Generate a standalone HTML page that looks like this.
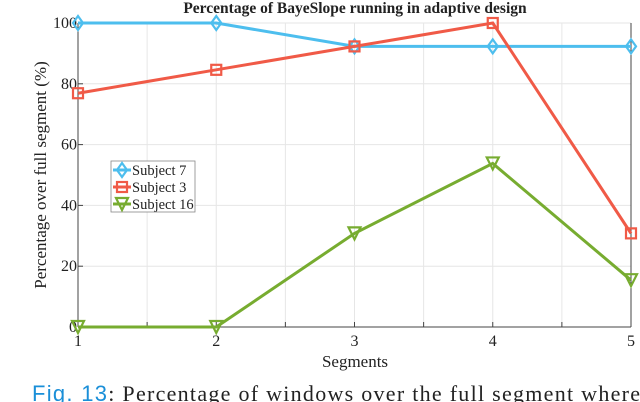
<!DOCTYPE html>
<html><head><meta charset="utf-8"><style>
body{margin:0;background:#fff;width:640px;height:402px;overflow:hidden}
svg{display:block}
text{font-family:"Liberation Serif",serif;fill:#222}
</style></head><body>
<svg id="chart" width="640" height="402" xmlns="http://www.w3.org/2000/svg">
<text x="355" y="13" text-anchor="middle" font-size="15.5" font-weight="bold">Percentage of BayeSlope running in adaptive design</text>
<g id="grid"></g><g id="axes"></g><g id="series"></g>
<text x="355" y="367" text-anchor="middle" font-size="17">Segments</text>
<text transform="translate(46,175) rotate(-90)" text-anchor="middle" font-size="17">Percentage over full segment (%)</text>
<g>
<rect x="111" y="161" width="84" height="51" fill="#fff" stroke="#888" stroke-width="0.8"/>
<g id="legend-items"></g>
</g>
<text x="32" y="401" font-size="22" textLength="608" lengthAdjust="spacing"><tspan style="font-family:'Liberation Sans',sans-serif;fill:#1a8fd8">Fig. 13</tspan><tspan>: Percentage of windows over the full segment where</tspan></text>
</svg>
<script>
const categories=[1,2,3,4,5];
const subject7=[100,100,92.3,92.3,92.3];
const subject3=[76.9,84.6,92.3,100,30.8];
const subject16=[0,0,30.8,53.8,15.4];
const yTicks=[0,20,40,60,80,100];
const seriesNames=["Subject 7","Subject 3","Subject 16"];
const NS="http://www.w3.org/2000/svg";
const X0=78,X1=631,Y0=327,Y1=23;
const xs=v=>X0+(v-1)/4*(X1-X0);
const ys=v=>Y0-v/100*(Y0-Y1);
function mk(t,a,p){const e=document.createElementNS(NS,t);for(const k in a)e.setAttribute(k,a[k]);p.appendChild(e);return e;}
const grid=document.getElementById('grid'),axes=document.getElementById('axes'),ser=document.getElementById('series');
for(let v=1;v<=5;v+=0.5){const l=mk('line',{x1:xs(v),x2:xs(v),y1:Y1,y2:Y0,stroke:'#e6e6e6','stroke-width':1},grid);

mk('line',{x1:xs(v),x2:xs(v),y1:Y0,y2:Y0-5,stroke:'#444'},axes);}
yTicks.forEach(v=>{const l=mk('line',{x1:X0,x2:X1,y1:ys(v),y2:ys(v),stroke:'#e6e6e6'},grid);

mk('line',{x1:X0,x2:X0+5,y1:ys(v),y2:ys(v),stroke:'#444'},axes);
const t=mk('text',{x:X0-1,y:ys(v)+5,'text-anchor':'end','font-size':16},axes);t.textContent=v;
});
categories.forEach(c=>{const t=mk('text',{x:xs(c),y:Y0+19,'text-anchor':'middle','font-size':16},axes);t.textContent=c;
});
mk('line',{x1:X0,x2:X1,y1:Y0,y2:Y0,stroke:'#444'},axes);
mk('line',{x1:X0,x2:X0,y1:Y1,y2:Y0,stroke:'#444'},axes);
mk('line',{x1:X1,x2:X1,y1:Y1,y2:Y0,stroke:'#444'},axes);
const colors=['#4dbeee','#f05a47','#77ac30'];
function marker(i,x,y,p){
 const c=colors[i];let e;
 if(i===0)e=mk('polygon',{points:`${x},${y-7} ${x+5},${y} ${x},${y+7} ${x-5},${y}`,fill:'none',stroke:c,'stroke-width':2.2},p);
 else if(i===1)e=mk('rect',{x:x-5,y:y-5,width:10,height:10,fill:'none',stroke:c,'stroke-width':2.2},p);
 else e=mk('polygon',{points:`${x-6},${y-6} ${x+6},${y-6} ${x},${y+6}`,fill:'none',stroke:c,'stroke-width':2.2},p);
 return e;}
[subject7,subject3,subject16].forEach((d,i)=>{
 const g=mk('g',{},ser);
 
 
 mk('polyline',{points:d.map((v,j)=>xs(categories[j])+','+ys(v)).join(' '),fill:'none',stroke:colors[i],'stroke-width':3},g);
 d.forEach((v,j)=>{const m=marker(i,xs(categories[j]),ys(v),g);
 });
});
const li=document.getElementById('legend-items');
seriesNames.forEach((n,i)=>{const y=170+i*17;
 const g=mk('g',{},li);
 
 mk('line',{x1:113,x2:131,y1:y,y2:y,stroke:colors[i],'stroke-width':3},g);
 marker(i,122,y,g);
 const t=mk('text',{x:132,y:y+5,'font-size':14.5},g);t.textContent=n;});
</script>
</body></html>
